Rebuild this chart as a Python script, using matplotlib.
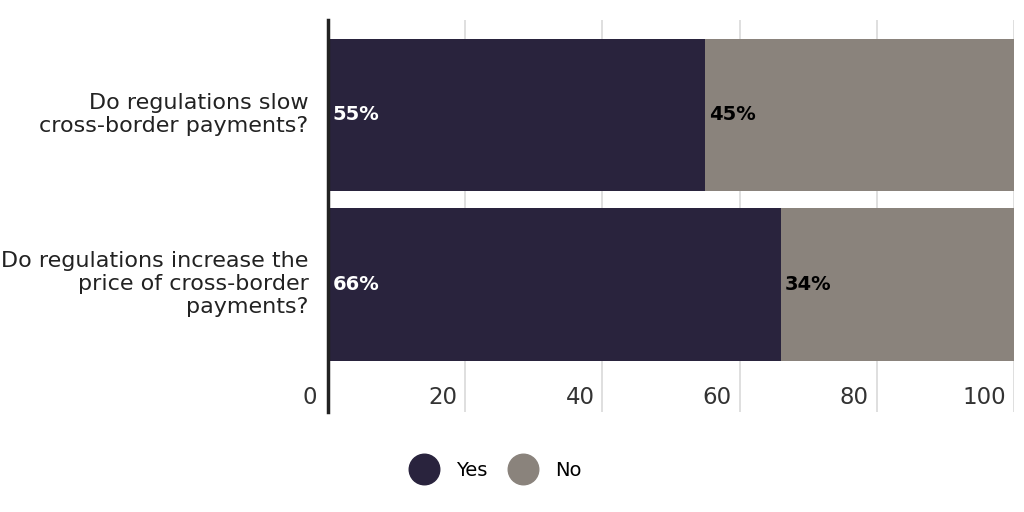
import numpy as np
import matplotlib
matplotlib.use("Agg")
import matplotlib.pyplot as plt
import matplotlib.transforms as mtransforms
from matplotlib.lines import Line2D

plt.rcParams['font.family'] = ['DejaVu Sans']

# data
questions = ["Do regulations slow\ncross-border payments?",
             "Do regulations increase the\nprice of cross-border\npayments?"]
yes_vals = [55, 66]
no_vals = [45, 34]
series_names = ["Yes", "No"]
xticks = [0, 20, 40, 60, 80, 100]

yes_color = "#29233d"
no_color = "#8a837c"

fig = plt.figure(figsize=(10.24, 5.12), dpi=100)
ax = fig.add_axes([328/1024, 1 - 412/512, 686/1024, 392/512])

ypos = np.arange(len(questions))
ax.barh(ypos, yes_vals, height=0.897, color=yes_color, zorder=3)
ax.barh(ypos, no_vals, left=yes_vals, height=0.897, color=no_color, zorder=3)

ax.set_xlim(0, 100)
ax.set_ylim(1.752, -0.56)

# gridlines
for t in xticks[1:]:
    ax.axvline(t, color="#d9d9d9", lw=1.2, zorder=1)

for s in ["top", "right", "bottom"]:
    ax.spines[s].set_visible(False)
ax.spines["left"].set_linewidth(2.5)
ax.spines["left"].set_color("#222222")
ax.spines["left"].set_zorder(4)

ax.set_xticks([])
ax.set_yticks(ypos)
ax.set_yticklabels(questions, fontsize=16, color="#222222", ha="right",
                   linespacing=1.2)
ax.tick_params(axis="y", length=0, pad=14)
# nudge question labels up a little
for lbl in ax.get_yticklabels():
    lbl.set_transform(lbl.get_transform() +
                      mtransforms.ScaledTranslation(0, 4/100, fig.dpi_scale_trans))

# x tick labels drawn inside the plot area, left of each gridline
trans = mtransforms.blended_transform_factory(ax.transData, ax.transAxes)
for t in xticks:
    off = -11 if t == 0 else -8
    ax.annotate(str(t), xy=(t, 0.036), xycoords=trans,
                xytext=(off, 0), textcoords="offset pixels",
                ha="right", va="center", fontsize=16.5, color="#333333")

# value labels
for i in range(len(questions)):
    ax.annotate(f"{yes_vals[i]}%", xy=(0, ypos[i]), xytext=(3.5, 0),
                textcoords="offset points", ha="left", va="center",
                fontsize=14, fontweight="bold", color="white", zorder=5)
    ax.annotate(f"{no_vals[i]}%", xy=(yes_vals[i], ypos[i]), xytext=(3, 0),
                textcoords="offset points", ha="left", va="center",
                fontsize=14, fontweight="bold", color="black", zorder=5)

handles = [Line2D([], [], marker="o", ls="", markersize=22, color=c)
           for c in [yes_color, no_color]]
fig.legend(handles, series_names, loc="center", bbox_to_anchor=(497/1024, 1 - 470/512),
           ncol=2, frameon=False, fontsize=14, handletextpad=1.05,
           columnspacing=1.25, handlelength=1.2)

fig.savefig("out.png", dpi=100)
